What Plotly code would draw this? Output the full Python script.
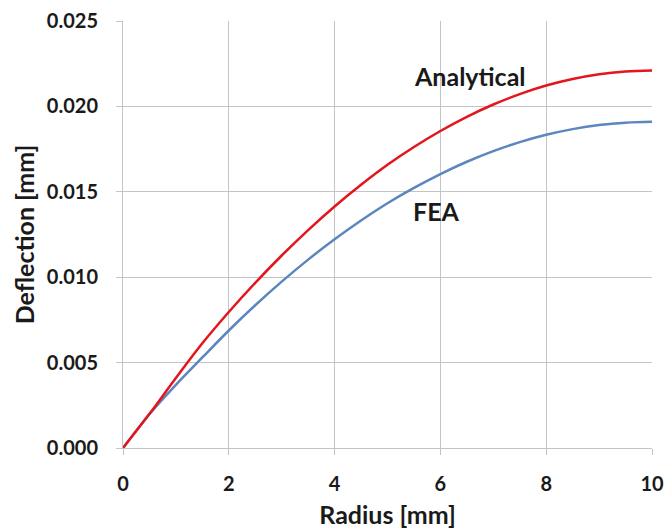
import plotly.graph_objects as go

radius = [0, 0.5, 1, 1.5, 2, 2.5, 3, 3.5, 4, 4.5, 5, 5.5, 6, 6.5, 7, 7.5, 8, 8.5, 9, 9.5, 10]
analytical = [0, 0.0020, 0.0041, 0.00613, 0.00796, 0.00967, 0.01127, 0.01276, 0.01414,
              0.01541, 0.01658, 0.01762, 0.01856, 0.01939, 0.02011, 0.02072, 0.02122,
              0.02160, 0.02188, 0.02204, 0.0221]
fea = [0, 0.00198, 0.0037, 0.0053, 0.00688, 0.00836, 0.00974, 0.01103, 0.01222,
       0.01332, 0.01433, 0.01523, 0.01604, 0.01676, 0.01738, 0.01791, 0.01834,
       0.01867, 0.01891, 0.01905, 0.0191]
x_ticks = [0, 2, 4, 6, 8, 10]
y_ticks = [0.000, 0.005, 0.010, 0.015, 0.020, 0.025]

font_family = "Lato, 'Open Sans', sans-serif"
grid_col = "#c4c4c4"
txt_col = "#1a1a1a"

fig = go.Figure()
fig.add_trace(go.Scatter(x=radius, y=fea, mode="lines", line=dict(color="#5b86be", width=2.5, shape="spline"),
                         name="FEA", showlegend=False))
fig.add_trace(go.Scatter(x=radius, y=analytical, mode="lines", line=dict(color="#e3151d", width=2.5, shape="spline"),
                         name="Analytical", showlegend=False))

fig.add_annotation(x=5.47, y=0.0218, text="Analytical", showarrow=False, xanchor="left", yanchor="middle",
                   font=dict(family=font_family, size=25, color=txt_col, weight="bold"))
fig.add_annotation(x=5.44, y=0.0139, text="FEA", showarrow=False, xanchor="left", yanchor="middle",
                   font=dict(family=font_family, size=25, color=txt_col, weight="bold"))

fig.update_layout(
    width=671, height=529,
    margin=dict(l=123, r=19, t=21, b=81),
    paper_bgcolor="white", plot_bgcolor="white",
    font=dict(family=font_family, color=txt_col),
    xaxis=dict(range=[0, 10], tickvals=x_ticks, ticktext=[str(v) for v in x_ticks],
               showgrid=True, gridcolor=grid_col, gridwidth=1, zeroline=False,
               showline=True, linecolor=grid_col, linewidth=1, automargin=False,
               ticks="outside", ticklen=6, tickcolor=grid_col, ticklabelstandoff=12,
               tickfont=dict(size=20, family=font_family, weight="bold", color=txt_col),
               title=dict(text="Radius [mm]", font=dict(size=25, family=font_family, weight="bold", color=txt_col), standoff=12)),
    yaxis=dict(range=[0, 0.025], tickvals=y_ticks, ticktext=[f"{v:.3f}" for v in y_ticks],
               showgrid=True, gridcolor=grid_col, gridwidth=1, zeroline=False,
               showline=True, linecolor=grid_col, linewidth=1, automargin=False,
               ticks="outside", ticklen=6, tickcolor=grid_col, ticklabelstandoff=14,
               tickfont=dict(size=20, family=font_family, weight="bold", color=txt_col),
               title=dict(text="Deflection [mm]", font=dict(size=25, family=font_family, weight="bold", color=txt_col), standoff=5)),
)

fig.write_html("out.html", config={"displayModeBar": False},
               post_script="document.body.style.margin='0';document.body.style.overflow='hidden';")
